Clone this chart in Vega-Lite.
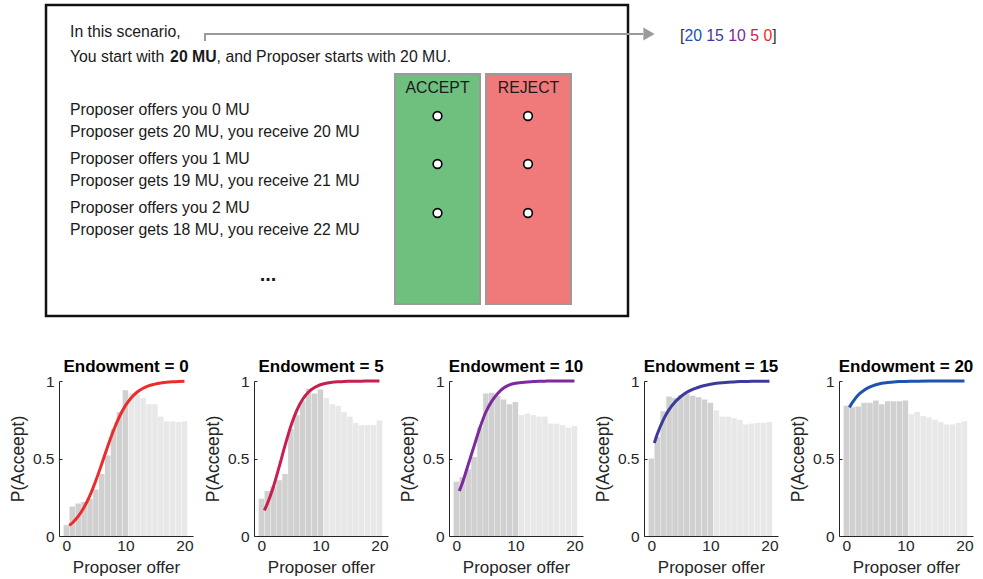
{
  "$schema": "https://vega.github.io/schema/vega-lite/v6.json",
  "padding": {"left": 9, "top": 0, "right": 0, "bottom": 0},
  "background": "white",
  "spacing": 18,
  "config": {
    "view": {"stroke": null},
    "font": "Liberation Sans"
  },
  "datasets": {
    "frame": [{"x": 46, "x2": 628, "y": 5, "y2": 316}],
    "choices": [
      {"choice": "ACCEPT", "x": 395, "x2": 480, "y": 74, "y2": 304},
      {"choice": "REJECT", "x": 486, "x2": 571, "y": 74, "y2": 304}
    ],
    "choiceLabels": [
      {"x": 437.5, "y": 88, "text": "ACCEPT"},
      {"x": 528.5, "y": 88, "text": "REJECT"}
    ],
    "radios": [
      {"x": 437.5, "y": 116}, {"x": 437.5, "y": 164}, {"x": 437.5, "y": 213},
      {"x": 528, "y": 116}, {"x": 528, "y": 164}, {"x": 528, "y": 213}
    ],
    "lines": [
      {"x": 70, "y": 31.5, "text": "In this scenario,"},
      {"x": 70, "y": 56.5, "text": "You start with "},
      {"x": 216.6, "y": 56.5, "text": ", and Proposer starts with 20 MU."},
      {"x": 70, "y": 109.5, "text": "Proposer offers you 0 MU"},
      {"x": 70, "y": 131.5, "text": "Proposer gets 20 MU, you receive 20 MU"},
      {"x": 70, "y": 158.5, "text": "Proposer offers you 1 MU"},
      {"x": 70, "y": 180.5, "text": "Proposer gets 19 MU, you receive 21 MU"},
      {"x": 70, "y": 207.5, "text": "Proposer offers you 2 MU"},
      {"x": 70, "y": 229.5, "text": "Proposer gets 18 MU, you receive 22 MU"}
    ],
    "emphasis": [{"x": 170.1, "y": 56.5, "text": "20 MU"}],
    "dots": [{"x": 268, "y": 281, "text": "..."}],
    "connector": [
      {"x": 205, "y": 41, "seq": 1},
      {"x": 205, "y": 34, "seq": 2},
      {"x": 643, "y": 34, "seq": 3}
    ],
    "arrowhead": [{"x": 649, "y": 34}],
    "brackets": [{"x": 680, "y": 36, "text": "["}, {"x": 772.2, "y": 36, "text": "]"}],
    "tokens": [
      {"x": 684.4, "y": 36, "text": "20", "endowment": 20},
      {"x": 706.3, "y": 36, "text": "15", "endowment": 15},
      {"x": 728.3, "y": 36, "text": "10", "endowment": 10},
      {"x": 750.2, "y": 36, "text": "5", "endowment": 5},
      {"x": 763.4, "y": 36, "text": "0", "endowment": 0}
    ],
    "panels": [
      {"endowment": 0, "offer": 0, "share": 0.07}, {"endowment": 0, "offer": 1, "share": 0.19}, {"endowment": 0, "offer": 2, "share": 0.21},
      {"endowment": 0, "offer": 3, "share": 0.22}, {"endowment": 0, "offer": 4, "share": 0.24}, {"endowment": 0, "offer": 5, "share": 0.3},
      {"endowment": 0, "offer": 6, "share": 0.4}, {"endowment": 0, "offer": 7, "share": 0.52}, {"endowment": 0, "offer": 8, "share": 0.69},
      {"endowment": 0, "offer": 9, "share": 0.8}, {"endowment": 0, "offer": 10, "share": 0.94}, {"endowment": 0, "offer": 11, "share": 0.92},
      {"endowment": 0, "offer": 12, "share": 0.91}, {"endowment": 0, "offer": 13, "share": 0.89}, {"endowment": 0, "offer": 14, "share": 0.85},
      {"endowment": 0, "offer": 15, "share": 0.85}, {"endowment": 0, "offer": 16, "share": 0.77}, {"endowment": 0, "offer": 17, "share": 0.74},
      {"endowment": 0, "offer": 18, "share": 0.74}, {"endowment": 0, "offer": 19, "share": 0.735}, {"endowment": 0, "offer": 20, "share": 0.74},

      {"endowment": 5, "offer": 0, "share": 0.24}, {"endowment": 5, "offer": 1, "share": 0.29}, {"endowment": 5, "offer": 2, "share": 0.32},
      {"endowment": 5, "offer": 3, "share": 0.36}, {"endowment": 5, "offer": 4, "share": 0.4}, {"endowment": 5, "offer": 5, "share": 0.69},
      {"endowment": 5, "offer": 6, "share": 0.78}, {"endowment": 5, "offer": 7, "share": 0.875}, {"endowment": 5, "offer": 8, "share": 0.95},
      {"endowment": 5, "offer": 9, "share": 0.92}, {"endowment": 5, "offer": 10, "share": 0.945}, {"endowment": 5, "offer": 11, "share": 0.89},
      {"endowment": 5, "offer": 12, "share": 0.85}, {"endowment": 5, "offer": 13, "share": 0.84}, {"endowment": 5, "offer": 14, "share": 0.8},
      {"endowment": 5, "offer": 15, "share": 0.77}, {"endowment": 5, "offer": 16, "share": 0.73}, {"endowment": 5, "offer": 17, "share": 0.715},
      {"endowment": 5, "offer": 18, "share": 0.715}, {"endowment": 5, "offer": 19, "share": 0.715}, {"endowment": 5, "offer": 20, "share": 0.745},

      {"endowment": 10, "offer": 0, "share": 0.35}, {"endowment": 10, "offer": 1, "share": 0.38}, {"endowment": 10, "offer": 2, "share": 0.43},
      {"endowment": 10, "offer": 3, "share": 0.51}, {"endowment": 10, "offer": 4, "share": 0.7}, {"endowment": 10, "offer": 5, "share": 0.92},
      {"endowment": 10, "offer": 6, "share": 0.925}, {"endowment": 10, "offer": 7, "share": 0.905}, {"endowment": 10, "offer": 8, "share": 0.88},
      {"endowment": 10, "offer": 9, "share": 0.85}, {"endowment": 10, "offer": 10, "share": 0.865}, {"endowment": 10, "offer": 11, "share": 0.78},
      {"endowment": 10, "offer": 12, "share": 0.79}, {"endowment": 10, "offer": 13, "share": 0.78}, {"endowment": 10, "offer": 14, "share": 0.77},
      {"endowment": 10, "offer": 15, "share": 0.77}, {"endowment": 10, "offer": 16, "share": 0.725}, {"endowment": 10, "offer": 17, "share": 0.725},
      {"endowment": 10, "offer": 18, "share": 0.715}, {"endowment": 10, "offer": 19, "share": 0.7}, {"endowment": 10, "offer": 20, "share": 0.71},

      {"endowment": 15, "offer": 0, "share": 0.5}, {"endowment": 15, "offer": 1, "share": 0.64}, {"endowment": 15, "offer": 2, "share": 0.805},
      {"endowment": 15, "offer": 3, "share": 0.9}, {"endowment": 15, "offer": 4, "share": 0.89}, {"endowment": 15, "offer": 5, "share": 0.91},
      {"endowment": 15, "offer": 6, "share": 0.92}, {"endowment": 15, "offer": 7, "share": 0.905}, {"endowment": 15, "offer": 8, "share": 0.895},
      {"endowment": 15, "offer": 9, "share": 0.88}, {"endowment": 15, "offer": 10, "share": 0.86}, {"endowment": 15, "offer": 11, "share": 0.81},
      {"endowment": 15, "offer": 12, "share": 0.77}, {"endowment": 15, "offer": 13, "share": 0.77}, {"endowment": 15, "offer": 14, "share": 0.76},
      {"endowment": 15, "offer": 15, "share": 0.75}, {"endowment": 15, "offer": 16, "share": 0.72}, {"endowment": 15, "offer": 17, "share": 0.725},
      {"endowment": 15, "offer": 18, "share": 0.73}, {"endowment": 15, "offer": 19, "share": 0.73}, {"endowment": 15, "offer": 20, "share": 0.735},

      {"endowment": 20, "offer": 0, "share": 0.84}, {"endowment": 20, "offer": 1, "share": 0.83}, {"endowment": 20, "offer": 2, "share": 0.835},
      {"endowment": 20, "offer": 3, "share": 0.86}, {"endowment": 20, "offer": 4, "share": 0.86}, {"endowment": 20, "offer": 5, "share": 0.875},
      {"endowment": 20, "offer": 6, "share": 0.85}, {"endowment": 20, "offer": 7, "share": 0.87}, {"endowment": 20, "offer": 8, "share": 0.87},
      {"endowment": 20, "offer": 9, "share": 0.87}, {"endowment": 20, "offer": 10, "share": 0.875}, {"endowment": 20, "offer": 11, "share": 0.785},
      {"endowment": 20, "offer": 12, "share": 0.8}, {"endowment": 20, "offer": 13, "share": 0.775}, {"endowment": 20, "offer": 14, "share": 0.765},
      {"endowment": 20, "offer": 15, "share": 0.75}, {"endowment": 20, "offer": 16, "share": 0.735}, {"endowment": 20, "offer": 17, "share": 0.72},
      {"endowment": 20, "offer": 18, "share": 0.72}, {"endowment": 20, "offer": 19, "share": 0.73}, {"endowment": 20, "offer": 20, "share": 0.74},

      {"endowment": 0, "offer": 0.5, "fit": 0.068}, {"endowment": 0, "offer": 1, "fit": 0.084}, {"endowment": 0, "offer": 2, "fit": 0.126},
      {"endowment": 0, "offer": 3, "fit": 0.185}, {"endowment": 0, "offer": 4, "fit": 0.262}, {"endowment": 0, "offer": 5, "fit": 0.358},
      {"endowment": 0, "offer": 6, "fit": 0.466}, {"endowment": 0, "offer": 7, "fit": 0.578}, {"endowment": 0, "offer": 8, "fit": 0.682},
      {"endowment": 0, "offer": 9, "fit": 0.771}, {"endowment": 0, "offer": 10, "fit": 0.841}, {"endowment": 0, "offer": 11, "fit": 0.892},
      {"endowment": 0, "offer": 12, "fit": 0.929}, {"endowment": 0, "offer": 13, "fit": 0.953}, {"endowment": 0, "offer": 14, "fit": 0.97},
      {"endowment": 0, "offer": 15, "fit": 0.98}, {"endowment": 0, "offer": 16, "fit": 0.987}, {"endowment": 0, "offer": 17, "fit": 0.992},
      {"endowment": 0, "offer": 18, "fit": 0.995}, {"endowment": 0, "offer": 19, "fit": 0.997}, {"endowment": 0, "offer": 20, "fit": 0.998},

      {"endowment": 5, "offer": 0.5, "fit": 0.165}, {"endowment": 5, "offer": 1, "fit": 0.207}, {"endowment": 5, "offer": 2, "fit": 0.313},
      {"endowment": 5, "offer": 3, "fit": 0.444}, {"endowment": 5, "offer": 4, "fit": 0.583}, {"endowment": 5, "offer": 5, "fit": 0.71},
      {"endowment": 5, "offer": 6, "fit": 0.811}, {"endowment": 5, "offer": 7, "fit": 0.882}, {"endowment": 5, "offer": 8, "fit": 0.929},
      {"endowment": 5, "offer": 9, "fit": 0.958}, {"endowment": 5, "offer": 10, "fit": 0.976}, {"endowment": 5, "offer": 11, "fit": 0.986},
      {"endowment": 5, "offer": 12, "fit": 0.992}, {"endowment": 5, "offer": 13, "fit": 0.995}, {"endowment": 5, "offer": 14, "fit": 0.997},
      {"endowment": 5, "offer": 15, "fit": 0.998}, {"endowment": 5, "offer": 16, "fit": 0.999}, {"endowment": 5, "offer": 17, "fit": 0.999},
      {"endowment": 5, "offer": 18, "fit": 1.0}, {"endowment": 5, "offer": 19, "fit": 1.0}, {"endowment": 5, "offer": 20, "fit": 1.0},

      {"endowment": 10, "offer": 0.5, "fit": 0.29}, {"endowment": 10, "offer": 1, "fit": 0.34}, {"endowment": 10, "offer": 2, "fit": 0.46},
      {"endowment": 10, "offer": 3, "fit": 0.58}, {"endowment": 10, "offer": 4, "fit": 0.7}, {"endowment": 10, "offer": 5, "fit": 0.8},
      {"endowment": 10, "offer": 6, "fit": 0.87}, {"endowment": 10, "offer": 7, "fit": 0.92}, {"endowment": 10, "offer": 8, "fit": 0.955},
      {"endowment": 10, "offer": 9, "fit": 0.975}, {"endowment": 10, "offer": 10, "fit": 0.985}, {"endowment": 10, "offer": 11, "fit": 0.99},
      {"endowment": 10, "offer": 12, "fit": 0.994}, {"endowment": 10, "offer": 13, "fit": 0.996}, {"endowment": 10, "offer": 14, "fit": 0.998},
      {"endowment": 10, "offer": 15, "fit": 0.999}, {"endowment": 10, "offer": 16, "fit": 1.0}, {"endowment": 10, "offer": 17, "fit": 1.0},
      {"endowment": 10, "offer": 18, "fit": 1.0}, {"endowment": 10, "offer": 19, "fit": 1.0}, {"endowment": 10, "offer": 20, "fit": 1.0},

      {"endowment": 15, "offer": 0.5, "fit": 0.6}, {"endowment": 15, "offer": 1, "fit": 0.657}, {"endowment": 15, "offer": 2, "fit": 0.748},
      {"endowment": 15, "offer": 3, "fit": 0.815}, {"endowment": 15, "offer": 4, "fit": 0.864}, {"endowment": 15, "offer": 5, "fit": 0.9},
      {"endowment": 15, "offer": 6, "fit": 0.927}, {"endowment": 15, "offer": 7, "fit": 0.946}, {"endowment": 15, "offer": 8, "fit": 0.96},
      {"endowment": 15, "offer": 9, "fit": 0.971}, {"endowment": 15, "offer": 10, "fit": 0.979}, {"endowment": 15, "offer": 11, "fit": 0.985},
      {"endowment": 15, "offer": 12, "fit": 0.989}, {"endowment": 15, "offer": 13, "fit": 0.992}, {"endowment": 15, "offer": 14, "fit": 0.994},
      {"endowment": 15, "offer": 15, "fit": 0.996}, {"endowment": 15, "offer": 16, "fit": 0.997}, {"endowment": 15, "offer": 17, "fit": 0.998},
      {"endowment": 15, "offer": 18, "fit": 0.998}, {"endowment": 15, "offer": 19, "fit": 0.999}, {"endowment": 15, "offer": 20, "fit": 0.999},

      {"endowment": 20, "offer": 0.5, "fit": 0.83}, {"endowment": 20, "offer": 1, "fit": 0.86}, {"endowment": 20, "offer": 2, "fit": 0.91},
      {"endowment": 20, "offer": 3, "fit": 0.94}, {"endowment": 20, "offer": 4, "fit": 0.962}, {"endowment": 20, "offer": 5, "fit": 0.976},
      {"endowment": 20, "offer": 6, "fit": 0.985}, {"endowment": 20, "offer": 7, "fit": 0.99}, {"endowment": 20, "offer": 8, "fit": 0.994},
      {"endowment": 20, "offer": 9, "fit": 0.996}, {"endowment": 20, "offer": 10, "fit": 0.997}, {"endowment": 20, "offer": 12, "fit": 0.999},
      {"endowment": 20, "offer": 14, "fit": 1.0}, {"endowment": 20, "offer": 16, "fit": 1.0}, {"endowment": 20, "offer": 18, "fit": 1.0},
      {"endowment": 20, "offer": 20, "fit": 1.0}
    ]
  },
  "vconcat": [
    {
      "width": 924,
      "height": 340,
      "encoding": {
        "x": {"field": "x", "type": "quantitative", "scale": {"domain": [59, 983], "nice": false, "zero": false}, "axis": null},
        "y": {"field": "y", "type": "quantitative", "scale": {"domain": [0, 340], "reverse": true, "nice": false, "zero": false}, "axis": null}
      },
      "layer": [
        {
          "data": {"name": "frame"},
          "mark": {"type": "rect", "fill": "white", "stroke": "#111111", "strokeWidth": 2.5},
          "encoding": {"x2": {"field": "x2"}, "y2": {"field": "y2"}}
        },
        {
          "data": {"name": "choices"},
          "mark": {"type": "rect", "stroke": "#9a9a9a", "strokeWidth": 2},
          "encoding": {
            "x2": {"field": "x2"}, "y2": {"field": "y2"},
            "fill": {"condition": {"test": "datum.choice === 'ACCEPT'", "value": "#6fbf7f"}, "value": "#f07a7a"}
          }
        },
        {
          "data": {"name": "choiceLabels"},
          "mark": {"type": "text", "align": "center", "baseline": "middle", "fontSize": 15.8, "font": "Liberation Sans", "color": "#1a1a1a"},
          "encoding": {"text": {"field": "text"}}
        },
        {
          "data": {"name": "radios"},
          "mark": {"type": "point", "shape": "circle", "filled": true, "fill": "white", "stroke": "#000000", "strokeWidth": 1.6, "size": 75, "opacity": 1}
        },
        {
          "data": {"name": "lines"},
          "mark": {"type": "text", "align": "left", "baseline": "middle", "fontSize": 15.8, "font": "Liberation Sans", "color": "#1a1a1a"},
          "encoding": {"text": {"field": "text"}}
        },
        {
          "data": {"name": "emphasis"},
          "mark": {"type": "text", "align": "left", "baseline": "middle", "fontSize": 15.8, "font": "Liberation Sans", "fontWeight": "bold", "color": "#1a1a1a"},
          "encoding": {"text": {"field": "text"}}
        },
        {
          "data": {"name": "dots"},
          "mark": {"type": "text", "align": "center", "baseline": "alphabetic", "fontSize": 20, "font": "Liberation Sans", "fontWeight": "bold", "color": "#1a1a1a"},
          "encoding": {"text": {"field": "text"}}
        },
        {
          "data": {"name": "connector"},
          "mark": {"type": "line", "color": "#9a9a9a", "strokeWidth": 2},
          "encoding": {"order": {"field": "seq", "type": "quantitative"}}
        },
        {
          "data": {"name": "arrowhead"},
          "mark": {"type": "point", "shape": "triangle-right", "filled": true, "color": "#9a9a9a", "size": 170, "opacity": 1}
        },
        {
          "data": {"name": "brackets"},
          "mark": {"type": "text", "align": "left", "baseline": "middle", "fontSize": 15.8, "font": "Liberation Sans", "color": "#333333"},
          "encoding": {"text": {"field": "text"}}
        },
        {
          "data": {"name": "tokens"},
          "mark": {"type": "text", "align": "left", "baseline": "middle", "fontSize": 15.8, "font": "Liberation Sans"},
          "encoding": {
            "text": {"field": "text"},
            "color": {"field": "endowment", "type": "nominal", "scale": {"domain": [0, 5, 10, 15, 20], "range": ["#ee2b2b", "#c81f4f", "#7d2a9c", "#3d3a9e", "#2152ad"]}, "legend": null}
          }
        }
      ]
    },
    {
      "data": {"name": "panels"},
      "facet": {
        "column": {
          "field": "endowment",
          "type": "ordinal",
          "header": {
            "title": null,
            "labelExpr": "'Endowment = ' + datum.value",
            "labelFontSize": 17,
            "labelFontWeight": "bold",
            "labelFont": "Liberation Sans",
            "labelColor": "#000000",
            "labelPadding": 5
          }
        }
      },
      "spacing": 61,
      "bounds": "flush",
      "resolve": {"axis": {"x": "independent", "y": "independent"}},
      "spec": {
        "width": 134,
        "height": 155,
        "layer": [
          {
            "transform": [{"filter": "isValid(datum.share)"}],
            "mark": {"type": "bar", "width": 5.5},
            "encoding": {
              "x": {"field": "offer", "type": "quantitative", "scale": {"domain": [-0.4, 20.6], "nice": false, "zero": false},
                "axis": {"title": "Proposer offer", "values": [0, 5, 10, 15, 20], "grid": false, "tickSize": -3, "labelPadding": 5, "labelFontSize": 15.5, "labelColor": "#262626", "titleFontSize": 17, "titleFontWeight": "normal", "titleColor": "#262626", "titlePadding": 6, "domainColor": "#262626", "tickColor": "#262626", "labelFlush": false}},
              "y": {"field": "share", "type": "quantitative", "scale": {"domain": [0, 1], "nice": false},
                "axis": {"title": "P(Acceept)", "values": [0, 0.5, 1], "format": "~g", "grid": false, "tickSize": -3, "labelPadding": 8, "labelFontSize": 15.5, "labelColor": "#262626", "titleFontSize": 17.5, "titleFontWeight": "normal", "titleColor": "#262626", "titlePadding": 5, "domainColor": "#262626", "tickColor": "#262626", "labelFlush": false}},
              "color": {"condition": {"test": "datum.offer <= 10", "value": "#d0d0d0"}, "value": "#e8e8e8"}
            }
          },
          {
            "transform": [{"filter": "isValid(datum.fit)"}],
            "mark": {"type": "line", "strokeWidth": 3, "interpolate": "monotone"},
            "encoding": {
              "x": {"field": "offer", "type": "quantitative"},
              "y": {"field": "fit", "type": "quantitative"},
              "color": {"field": "endowment", "type": "nominal", "scale": {"domain": [0, 5, 10, 15, 20], "range": ["#ee2b2b", "#c81f4f", "#7d2a9c", "#3d3a9e", "#2152ad"]}, "legend": null}
            }
          }
        ]
      }
    }
  ]
}
